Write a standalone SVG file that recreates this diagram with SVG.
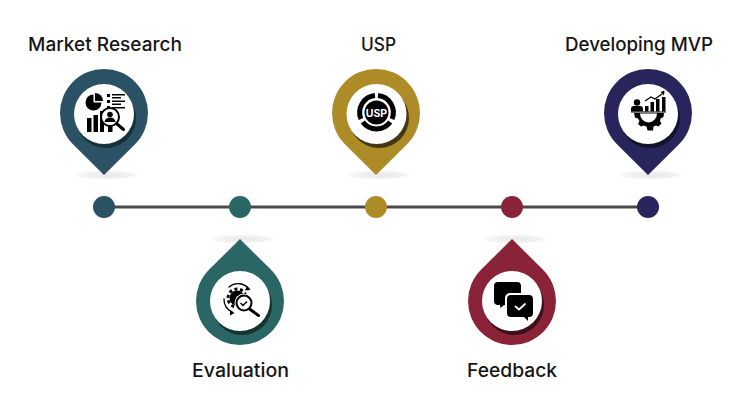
<svg xmlns="http://www.w3.org/2000/svg" width="740" height="414" viewBox="0 0 740 414">
<style>
.t{font-family:"Inter","Liberation Sans",sans-serif;font-size:18.500px;font-weight:500;fill:#151515;text-anchor:middle}
.sh{fill:url(#g)}
.w{fill:#fff}
.k{fill:#000}
.ks{fill:none;stroke:#000;stroke-width:1.300;stroke-linecap:round;stroke-linejoin:round}
.ws{fill:none;stroke:#fff;stroke-width:1.800;stroke-linecap:round;stroke-linejoin:round}
</style>
<defs>
<radialGradient id="g"><stop offset="0" stop-color="#e9e9e9"/><stop offset="0.7" stop-color="#f1f1f1"/><stop offset="1" stop-color="#fafafa"/></radialGradient>
<path id="pd" d="M-31 31.200A44 44 0 1 1 31 31.200L0 62Z"/>
<path id="pu" d="M-31 -31.200A44 44 0 1 0 31 -31.200L0 -62Z"/>
</defs>
<rect width="740" height="414" fill="#fff"/>
<g id="connectors"><line x1="104" y1="207" x2="648" y2="207" stroke="#4a4a4a" stroke-width="3"/></g>
<g id="market-research">
<ellipse class="sh" cx="107" cy="175" rx="31" ry="4.500"/>
<use href="#pd" x="104" y="113" fill="#2b5164"/>
<circle cx="106" cy="118" r="30" fill="#17303c"/><circle class="w" cx="104" cy="114" r="30"/>
<path class="k" d="M93.500 94.500A8 8 0 1 0 101.500 102.500L93.500 102.500Z"/><path class="k" d="M95 93A8 8 0 0 1 103 101H95Z"/>
<path class="k" d="M107 94h3v3h-3zM107 100h3v3h-3zM107 106h3v3h-3z"/>
<path class="k" d="M112 94h13v1.500h-13zM112 97h9v1.500h-9zM112 100.500h13v1.500h-13zM112 103.500h9v1.500h-9zM112 107h13v1.500h-13z"/>
<path class="k" d="M87 118h4.500v14h-4.500zM93.500 115h4.500v17h-4.500zM100 111h4v21h-4zM108 124h4.500v8h-4.500z"/>
<circle cx="110" cy="117" r="9" fill="#fff" stroke="#000" stroke-width="2"/>
<circle class="k" cx="110" cy="114.500" r="2.800"/><path class="k" d="M104.500 122a5.500 4.500 0 0 1 11 0Z"/>
<path d="M116.500 123.500L123.500 129.500" stroke="#000" stroke-width="3" stroke-linecap="round"/>
<text class="t" x="105" y="50.500" textLength="154" lengthAdjust="spacingAndGlyphs">Market Research</text>
</g>
<g id="evaluation">
<ellipse class="sh" cx="243" cy="239" rx="31" ry="4.500"/>
<use href="#pu" x="240" y="301" fill="#2a6663"/>
<circle cx="242" cy="305" r="30" fill="#143331"/><circle class="w" cx="240" cy="301" r="30"/>
<circle class="k" cx="237" cy="298" r="7.500"/>
<circle cx="237" cy="298" r="9" fill="none" stroke="#000" stroke-width="3" stroke-dasharray="3 2.650"/>
<path class="ks" d="M249 289A14 14 0 0 0 229 287M224 299A14 14 0 0 0 232 312"/>
<path class="k" d="M247 286l3.500 4-5.500 .5zM230 310l4.500 3-4.500 2.500z"/>
<circle cx="244" cy="303" r="9.500" fill="#fff"/>
<circle cx="244" cy="303" r="7.500" fill="#fff" stroke="#000" stroke-width="2"/>
<path d="M240.500 303l2.500 2.500 4-4" fill="none" stroke="#000" stroke-width="1.500"/>
<path d="M249.500 309L258.500 315.500" stroke="#000" stroke-width="3" stroke-linecap="round"/>
<text class="t" x="240.500" y="377" textLength="97" lengthAdjust="spacingAndGlyphs">Evaluation</text>
</g>
<g id="usp">
<ellipse class="sh" cx="379" cy="175" rx="31" ry="4.500"/>
<use href="#pd" x="376" y="113" fill="#ad8b27"/>
<circle cx="379" cy="118" r="30" fill="#453710"/><circle class="w" cx="376.500" cy="114" r="30"/>
<path d="M375 95.500A17 17 0 0 0 361 119M378 95.500A17 17 0 0 1 392 119M362.800 122A17 17 0 0 0 390.200 122" fill="none" stroke="#000" stroke-width="5"/>
<circle class="k" cx="376.500" cy="112.500" r="12"/>
<text x="376.500" y="116.500" font-family="Inter,'Liberation Sans',sans-serif" font-size="10.500" font-weight="700" fill="#fff" text-anchor="middle">USP</text>
<text class="t" x="378.500" y="50.500" textLength="35" lengthAdjust="spacingAndGlyphs">USP</text>
</g>
<g id="feedback">
<ellipse class="sh" cx="515" cy="239" rx="31" ry="4.500"/>
<use href="#pu" x="512" y="301" fill="#8a2338"/>
<circle cx="514" cy="305" r="30" fill="#3e0f19"/><circle class="w" cx="512" cy="301" r="30"/>
<path class="k" d="M498 282h19a4 4 0 0 1 4 4v15a4 4 0 0 1-4 4h-13l-3.500 3-.5-3h-2a4 4 0 0 1-4-4v-15a4 4 0 0 1 4-4Z"/>
<rect x="505" y="293" width="30" height="26" rx="5" fill="#fff"/>
<path class="k" d="M511 295h18a4 4 0 0 1 4 4v14a4 4 0 0 1-4 4h-1l0 4-4-4h-13a4 4 0 0 1-4-4v-14a4 4 0 0 1 4-4Z"/>
<path class="ws" d="M515.500 306.500l3.500 3 6-5.500"/>
<text class="t" x="512" y="377" textLength="90" lengthAdjust="spacingAndGlyphs">Feedback</text>
</g>
<g id="developing-mvp">
<ellipse class="sh" cx="651" cy="175" rx="31" ry="4.500"/>
<use href="#pd" x="648" y="113" fill="#28245c"/>
<circle cx="650" cy="118" r="30" fill="#14122e"/><circle class="w" cx="648" cy="114" r="30"/>
<circle class="k" cx="637" cy="102.500" r="3.200"/><path class="k" d="M631 111.500v-2.500a3 3 0 0 1 3-3h6a3 3 0 0 1 3 3v2.500Z"/>
<path class="k" d="M645 106h3.500v5.500h-3.500zM650.500 102h3.500v9.500h-3.500zM656 99h3.500v12.500h-3.500zM662 97h3.500v14.500h-3.500z"/>
<path d="M645 101l6-4 4 2 7-5" fill="none" stroke="#000" stroke-width="1.200"/><path class="k" d="M664.500 90.500l-.5 5-3.500-3.500z"/>
<path d="M631 112h35" stroke="#000" stroke-width="1.200"/>
<path class="k" d="M633 113h31l-.5 4-3 1.500-.5 2.500 1.500 2.500-3 3-2.500-1-2.500 1-.5 4h-5.500l-1-4-3-1-2.500 1-3-2.500 1.500-3-1.500-2.500-3-1-1-4.500Z"/>
<path d="M640 113.500a8.500 9 0 0 0 17 0Z" fill="#fff"/>
<text class="t" x="639" y="50.500" textLength="148" lengthAdjust="spacingAndGlyphs">Developing MVP</text>
</g>
<g id="dots">
<circle cx="104" cy="207" r="11" fill="#2b5164"/>
<circle cx="240" cy="207" r="11" fill="#2a6663"/>
<circle cx="376" cy="207" r="11" fill="#ad8b27"/>
<circle cx="512" cy="207" r="11" fill="#8a2338"/>
<circle cx="648" cy="207" r="11" fill="#28245c"/>
</g>
</svg>
